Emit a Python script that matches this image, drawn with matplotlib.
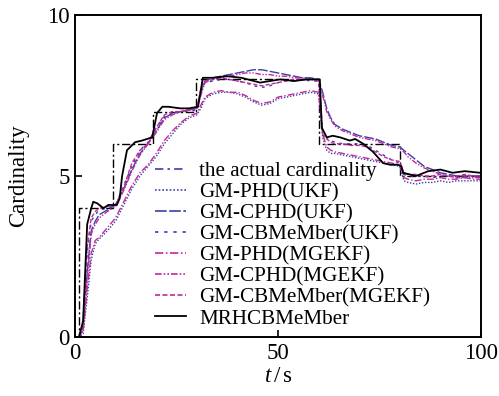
import matplotlib
matplotlib.use("Agg")
import matplotlib.pyplot as plt
from matplotlib.lines import Line2D

# ---------------- data ----------------
T = [0, 1, 2, 3, 4, 5, 6,
     8, 10, 12, 14, 16, 18, 20, 22, 24, 26, 28, 30,
     31,
     32, 34, 36, 38, 40, 42, 44, 46, 48, 50, 52, 54, 56, 58, 60,
     61, 62, 63,
     64, 66, 68, 70, 72, 74, 76, 78, 80,
     81,
     82, 84, 86, 88, 90, 92, 94, 96, 98, 100]

truth_t = [0, 1, 9.3, 19.3, 29.8, 60, 80, 100]
truth_n = [0, 4, 6, 7, 8, 6, 5, 5]

phd_ukf = [0, 0, 0.1, 1.2, 2.4, 2.9, 3.05,
           3.3, 3.6, 4.1, 4.6, 5.0, 5.3, 5.6, 6.0, 6.3, 6.6, 6.8, 6.9,
           7.1,
           7.4, 7.55, 7.6, 7.6, 7.55, 7.45, 7.3, 7.2, 7.25, 7.4, 7.45, 7.5, 7.55, 7.6, 7.55,
           6.2, 5.8, 5.7,
           5.7, 5.65, 5.6, 5.55, 5.5, 5.45, 5.4, 5.35, 5.3,
           4.85,
           4.8, 4.75, 4.8, 4.8, 4.85, 4.8, 4.85, 4.85, 4.85, 4.85]

cphd_ukf = [0, 0, 0.3, 2.0, 3.3, 3.6, 3.8,
            3.95, 4.1, 4.6, 5.2, 5.7, 6.0, 6.4, 6.8, 6.95, 7.0, 7.05, 7.1,
            7.6,
            7.95, 8.05, 8.1, 8.15, 8.2, 8.25, 8.3, 8.3, 8.25, 8.2, 8.15, 8.1, 8.05, 8.05, 8.0,
            7.6, 7.1, 6.8,
            6.6, 6.45, 6.35, 6.25, 6.2, 6.15, 6.05, 5.95, 5.9,
            5.8,
            5.7, 5.5, 5.3, 5.2, 5.1, 5.05, 5.0, 5.0, 5.0, 5.0]

cbmb_ukf = [0, 0, 0.4, 2.6, 3.6, 3.8, 3.95,
            4.0, 4.1, 4.7, 5.3, 5.8, 6.05, 6.5, 6.85, 6.95, 7.0, 7.0, 7.05,
            7.6,
            7.9, 7.95, 8.0, 8.0, 7.95, 7.9, 7.8, 7.75, 7.8, 7.9, 7.95, 7.95, 8.0, 7.95, 7.95,
            6.4, 6.2, 6.1,
            6.05, 6.0, 6.0, 6.0, 5.95, 5.8, 5.65, 5.5, 5.4,
            5.05,
            5.0, 5.0, 5.0, 4.95, 5.0, 5.0, 4.95, 5.0, 5.0, 5.0]

phd_mg = [0, 0, 0.2, 1.5, 2.6, 3.0, 3.1,
          3.4, 3.7, 4.2, 4.7, 5.1, 5.35, 5.7, 6.1, 6.4, 6.65, 6.85, 6.95,
          7.2,
          7.45, 7.6, 7.65, 7.6, 7.6, 7.5, 7.35, 7.25, 7.3, 7.45, 7.5, 7.55, 7.6, 7.65, 7.6,
          6.3, 5.9, 5.8,
          5.75, 5.7, 5.65, 5.6, 5.55, 5.5, 5.45, 5.4, 5.35,
          4.95,
          4.9, 4.85, 4.9, 4.9, 4.95, 4.9, 4.9, 4.95, 4.9, 4.9]

cphd_mg = [0, 0, 0.2, 1.8, 3.2, 3.5, 3.7,
           3.9, 4.05, 4.55, 5.15, 5.65, 6.0, 6.35, 6.75, 6.9, 7.0, 7.05, 7.1,
           7.5,
           7.9, 8.0, 8.05, 8.1, 8.15, 8.2, 8.2, 8.15, 8.15, 8.1, 8.1, 8.05, 8.05, 8.0, 8.0,
           7.5, 7.0, 6.75,
           6.55, 6.4, 6.3, 6.2, 6.15, 6.1, 6.0, 5.9, 5.85,
           5.75,
           5.6, 5.4, 5.25, 5.15, 5.05, 5.0, 4.95, 4.95, 4.95, 4.95]

cbmb_mg = [0, 0, 0.5, 2.8, 3.7, 3.9, 4.0,
           4.05, 4.1, 4.65, 5.4, 5.8, 6.0, 6.5, 6.9, 7.0, 7.0, 7.05, 7.1,
           7.7,
           7.95, 8.0, 8.05, 8.0, 7.95, 7.9, 7.85, 7.8, 7.85, 7.9, 7.95, 8.0, 8.0, 8.0, 7.95,
           6.3, 6.15, 6.05,
           6.0, 6.0, 5.95, 5.95, 5.9, 5.75, 5.6, 5.5, 5.45,
           5.1,
           5.05, 5.05, 5.0, 5.0, 5.05, 5.0, 5.0, 5.05, 5.0, 5.0]

mrh_t = [0, 1, 2, 2.5, 3, 4, 4.5, 5.5, 7, 8.2,
         10.3, 11, 11.6, 12.8, 14.8, 16.5, 19, 20.2, 21.5, 23,
         26, 28, 30.3, 31.5, 34, 37.4, 41, 45.6, 48, 50.5,
         54, 57, 59.6, 60.3, 60.8, 62, 63.5, 65.3, 67.7, 69,
         71, 73.4, 75.9, 77.6, 79.5, 80.4, 80.8, 84, 87, 90,
         93, 96, 99.8]
mrh_n = [0, 0, 0.5, 2.0, 3.5, 4.0, 4.2, 4.15, 4.0, 4.1,
         4.1, 4.3, 5.0, 5.8, 6.05, 6.1, 6.2, 6.95, 7.15, 7.15,
         7.1, 7.1, 7.15, 8.05, 8.05, 8.1, 8.05, 7.9, 7.95, 8.0,
         7.95, 8.0, 8.0, 8.0, 6.5, 6.2, 6.25, 6.2, 6.1, 6.15,
         6.0, 5.75, 5.4, 5.35, 5.35, 5.3, 5.1, 5.0, 5.15, 5.2,
         5.1, 5.15, 5.1]

labels = ["the actual cardinality", "GM-PHD(UKF)", "GM-CPHD(UKF)",
          "GM-CBMeMber(UKF)", "GM-PHD(MGEKF)", "GM-CPHD(MGEKF)",
          "GM-CBMeMber(MGEKF)", "MRHCBMeMber"]
xticks = [0, 50, 100]
yticks = [0, 5, 10]

# ---------------- style ----------------
BLUE = "#3a3fa8"
MAG = "#c4299a"
plt.rcParams["font.family"] = ["Liberation Serif", "DejaVu Serif"]
plt.rcParams["mathtext.fontset"] = "custom"
plt.rcParams["mathtext.it"] = "Liberation Serif:italic"
plt.rcParams["mathtext.rm"] = "Liberation Serif"

fig = plt.figure(figsize=(4.99, 3.96), dpi=100)
ax = fig.add_axes([75 / 499, 1 - 337 / 396, 406 / 499, 322 / 396])

lw = 1.0
styles = [
    dict(color=BLUE, dashes=(1, 1.2)),                 # PHD UKF
    dict(color=BLUE, dashes=(7, 1.5)),                 # CPHD UKF
    dict(color=BLUE, dashes=(2, 3.5)),                 # CBMeMber UKF
    dict(color=MAG, dashes=(5, 1.5, 1, 1.5)),          # PHD MGEKF
    dict(color=MAG, dashes=(4, 1.2, 1, 1.2, 1, 1.2)),  # CPHD MGEKF
    dict(color=MAG, dashes=(3, 1.5)),                  # CBMeMber MGEKF
]
series = [phd_ukf, cphd_ukf, cbmb_ukf, phd_mg, cphd_mg, cbmb_mg]

ax.plot(truth_t, truth_n, drawstyle="steps-post", color="black", lw=1.0,
        dashes=(6, 2, 1.5, 2))
for s, st in zip(series, styles):
    ax.plot(T, s, lw=lw, **st)
ax.plot(mrh_t, mrh_n, color="black", lw=1.3)

handles = [Line2D([], [], color=BLUE, lw=1.2, dashes=(5, 2.5, 1.5, 2.5))]
for st in styles:
    handles.append(Line2D([], [], lw=1.2, **st))
handles.append(Line2D([], [], color="black", lw=1.3))
ax.legend(handles, labels, loc="upper left", bbox_to_anchor=(0.197, 0.545),
          frameon=False, fontsize=15.2, handlelength=1.45, handletextpad=0.65,
          labelspacing=0.06, borderpad=0, borderaxespad=0)

ax.set_xlim(0, 100)
ax.set_ylim(0, 10)
ax.set_xticks(xticks)
ax.set_yticks(yticks)
ax.tick_params(direction="in", length=5, width=1.2, labelsize=16.5, pad=4)
for sp in ax.spines.values():
    sp.set_linewidth(1.4)
ax.set_ylabel("Cardinality", fontsize=16.5, labelpad=13)
ax.set_xlabel(r"$t\,/\,\mathrm{s}$", fontsize=16.5, labelpad=2)

fig.savefig("out.png", dpi=100)
